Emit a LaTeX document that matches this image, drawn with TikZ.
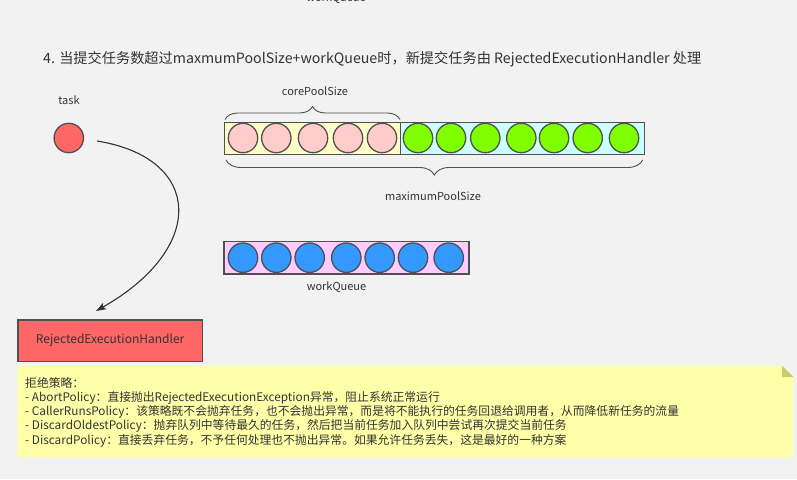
\documentclass[tikz,border=0pt]{standalone}
\usepackage{fontspec}
\setmainfont{Noto Sans CJK SC}
\usetikzlibrary{decorations.pathreplacing,arrows.meta,calc}
\definecolor{bg}{HTML}{F2F2F2}
\definecolor{ink}{HTML}{333333}
\definecolor{edge}{HTML}{505050}
\definecolor{coreY}{HTML}{FFFFCC}
\definecolor{extraC}{HTML}{CCFFFF}
\definecolor{queueP}{HTML}{FFCCFF}
\definecolor{pinkB}{HTML}{FFCCCC}
\definecolor{greenB}{HTML}{80FF00}
\definecolor{blueB}{HTML}{3399FF}
\definecolor{redB}{HTML}{FF6666}
\definecolor{noteY}{HTML}{FFFFAA}
\definecolor{noteF}{HTML}{CCCC66}
\tikzset{
  lbl/.style={text=ink, font=\fontsize{11}{13}\selectfont, inner sep=0pt},
  bar/.style={draw=edge, line width=1.3pt, rectangle, inner sep=0pt, anchor=north west},
  ball/.style={draw=edge, line width=1.3pt, circle, inner sep=0pt, minimum size=29.4pt},
  brc/.style={draw=edge, line width=0.9pt, decorate, decoration={brace, amplitude=13pt}},
  arr/.style={draw=ink, line width=1.1pt, -{Stealth[length=10pt,width=7pt,inset=2pt]}},
  noteline/.style={text=ink, font=\fontsize{11.8}{14}\selectfont, inner sep=0pt, anchor=base west},
}
\begin{document}
\begin{tikzpicture}[x=1pt,y=-1pt]
\useasboundingbox (0,0) rectangle (797,479);
\fill[bg] (0,0) rectangle (797,479);

% cut-off label from previous step (cut off in the reference too)
\node[lbl] (prevq) at (336,-1.5) {workQueue};

% heading
\node[text=ink, font=\fontsize{14.2}{16}\selectfont, inner sep=0pt, anchor=base west] (head) at (43,63)
  {4. 当提交任务数超过maxmumPoolSize+workQueue时，新提交任务由 RejectedExecutionHandler 处理};

% task
\node[lbl] (tasklbl) at (69,100) {task};
\node[ball, fill=redB] (task) at (68.8,138) {};

% pool bar
\node[bar, fill=coreY, minimum width=176.5pt, minimum height=32pt] (core) at (223.5,122) {};
\node[bar, fill=extraC, minimum width=243.5pt, minimum height=32pt] (extra) at (400,122) {};
\foreach \x [count=\i] in {243,276.3,313,348,382}
  \node[ball, fill=pinkB] (p\i) at (\x,138) {};
\foreach \x [count=\i] in {418,451,485.3,521.3,554,587.7,624}
  \node[ball, fill=greenB] (g\i) at (\x,138) {};

% braces
\coordinate (cb1) at (225,119.5);
\coordinate (cb2) at (400,119.5);
\draw[brc] (cb1) -- (cb2);
\node[lbl] (corelbl) at (315,91) {corePoolSize};
\coordinate (mb1) at (642.7,160);
\coordinate (mb2) at (226,160);
\draw[brc, decoration={brace, amplitude=15pt}] (mb1) -- (mb2);
\node[lbl] (maxlbl) at (433,196) {maximumPoolSize};

% work queue
\node[bar, fill=queueP, minimum width=245pt, minimum height=32.6pt] (queue) at (223.3,240.7) {};
\foreach \x [count=\i] in {243,276.3,309.7,346.3,379.7,413,448.7}
  \node[ball, fill=blueB] (q\i) at (\x,257.7) {};
\node[lbl] (queuelbl) at (336.5,287.5) {workQueue};

% handler
\node[bar, fill=redB, minimum width=184.4pt, minimum height=41.4pt] (handler) at (17.3,319.3) {};
\node[text=ink, font=\fontsize{12}{14}\selectfont, inner sep=0pt] (handlerlbl) at (handler.center) {RejectedExecutionHandler};

% curved arrow
\coordinate (a0) at (97,141);
\coordinate (a1) at (96,311);
\draw[arr] (a0) .. controls (203,158) and (207,248) .. (a1);

% note
\fill[noteY] (17.5,365.7) -- (782,365.7) -- (793.3,377) -- (793.3,457.3) -- (17.5,457.3) -- cycle;
\fill[noteF] (782,365.7) -- (782,377) -- (793.3,377) -- cycle;
\node[noteline] (n1) at (25,387.2) {拒绝策略：};
\node[noteline] (n2) at (25,401.4) {- AbortPolicy：直接抛出RejectedExecutionException异常，阻止系统正常运行};
\node[noteline] (n3) at (25,415.6) {- CallerRunsPolicy：该策略既不会抛弃任务，也不会抛出异常，而是将不能执行的任务回退给调用者，从而降低新任务的流量};
\node[noteline] (n4) at (25,429.8) {- DiscardOldestPolicy：抛弃队列中等待最久的任务，然后把当前任务加入队列中尝试再次提交当前任务};
\node[noteline] (n5) at (25,444.0) {- DiscardPolicy：直接丢弃任务，不予任何处理也不抛出异常。如果允许任务丢失，这是最好的一种方案};
\end{tikzpicture}
\end{document}
